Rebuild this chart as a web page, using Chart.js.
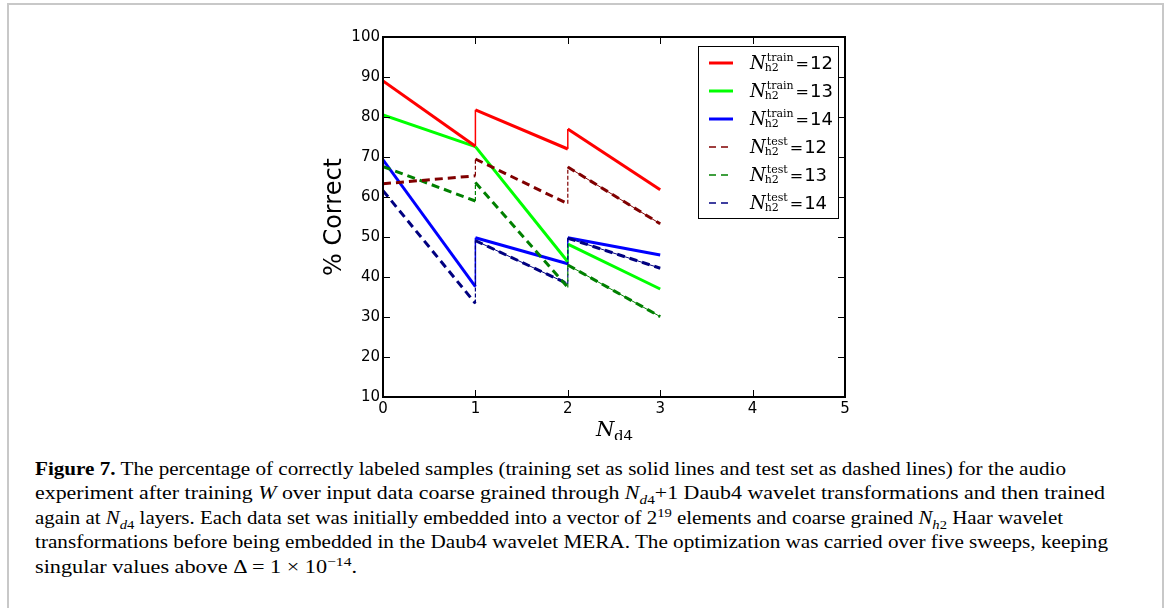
<!DOCTYPE html>
<html>
<head>
<meta charset="utf-8">
<script src="https://cdn.jsdelivr.net/npm/chart.js@4"></script>
<style>
  html, body { margin: 0; padding: 0; background: #fff; }
  body { width: 1170px; height: 608px; position: relative; overflow: hidden; }
  #frame { position: absolute; left: 7px; top: 3px; width: 1153px; height: 640px; border: 2px solid #c8c8c8; border-bottom: none; }
  #plot { position: absolute; left: 0; top: 0; }
  #caption { position: absolute; left: 35px; top: 457px; font-family: "Liberation Serif", serif; font-size: 18px; line-height: 24.4px; color: #000; }
  #caption div { white-space: nowrap; width: max-content; transform-origin: 0 0; }
  sub, sup { line-height: 0; font-size: 0.7em; }
</style>
</head>
<body>
<div id="frame"></div>
<canvas id="plot" width="1170" height="440"></canvas>
<div id="caption">
  <div data-w="1031"><b>Figure 7.</b> The percentage of correctly labeled samples (training set as solid lines and test set as dashed lines) for the audio</div>
  <div data-w="1070">experiment after training <i>W</i> over input data coarse grained through <i>N</i><sub><i>d</i>4</sub>+1 Daub4 wavelet transformations and then trained</div>
  <div data-w="1028">again at <i>N</i><sub><i>d</i>4</sub> layers. Each data set was initially embedded into a vector of 2<sup>19</sup> elements and coarse grained <i>N</i><sub><i>h</i>2</sub> Haar wavelet</div>
  <div data-w="1073">transformations before being embedded in the Daub4 wavelet MERA. The optimization was carried over five sweeps, keeping</div>
  <div data-w="322">singular values above Δ = 1 × 10<sup>−14</sup>.</div>
</div>
<script>
// N_d4 positions: every layer boundary appears twice (end of one run, start of the next)
const layers = [0, 1, 1, 2, 2, 3];

// % correct, training set
const train12 = [89.0, 72.7, 81.8, 72.0, 77.0, 61.8];
const train13 = [80.5, 72.6, 72.6, 43.8, 48.2, 37.0];
const train14 = [69.3, 37.6, 49.8, 43.3, 49.8, 45.5];

// % correct, test set
const test12 = [63.3, 65.3, 69.5, 58.3, 67.5, 53.3];
const test13 = [67.6, 59.0, 63.6, 37.4, 43.0, 30.1];
const test14 = [61.6, 33.4, 49.1, 38.3, 49.7, 42.2];

const xTickValues = [0, 1, 2, 3, 4, 5];
const yTickValues = [10, 20, 30, 40, 50, 60, 70, 80, 90, 100];

const seriesSup = ["train", "train", "train", "test", "test", "test"];
const seriesNum = ["12", "13", "14", "12", "13", "14"];

const colors = ["#ff0000", "#00ff00", "#0000ff", "#800000", "#008000", "#000080"];

const toPoints = vals => layers.map((x, i) => ({ x: x, y: vals[i] }));
const isJump = c => c.p0.parsed.x === c.p1.parsed.x;

function trainSet(vals, color) {
  return {
    data: toPoints(vals),
    borderColor: color,
    borderWidth: 3,
    pointRadius: 0,
    order: 3,
    segment: {
      borderWidth: c => isJump(c) ? 1.5 : 3,
    },
  };
}

function testSet(vals, color) {
  return {
    data: toPoints(vals),
    borderColor: color,
    borderWidth: 3,
    borderDash: [8, 5],
    borderCapStyle: "butt",
    pointRadius: 0,
    order: 1,
    segment: {
      borderWidth: c => isJump(c) ? 1.2 : 3,
      borderDash: c => isJump(c) ? [4, 2] : [8, 5],
    },
  };
}

// thin line under the later dashed runs
function underlay(vals, color, fromX) {
  return {
    data: toPoints(vals),
    borderColor: color,
    borderWidth: 1,
    pointRadius: 0,
    order: 2,
    segment: {
      borderColor: c => (!isJump(c) && c.p0.parsed.x >= fromX) ? color : "rgba(0,0,0,0)",
    },
  };
}

function line(ctx, x1, y1, x2, y2) {
  ctx.beginPath();
  ctx.moveTo(x1, y1);
  ctx.lineTo(x2, y2);
  ctx.stroke();
}

const decor = {
  id: "decor",
  afterDatasetsDraw(chart) {
    const { ctx, chartArea: a, scales: { x, y } } = chart;
    ctx.save();

    // inward ticks on all four sides
    ctx.strokeStyle = "#000";
    ctx.lineWidth = 1;
    xTickValues.forEach(v => {
      const px = Math.round(x.getPixelForValue(v)) + 0.5;
      line(ctx, px, a.bottom, px, a.bottom - 7);
      line(ctx, px, a.top, px, a.top + 7);
    });
    yTickValues.forEach(v => {
      const py = Math.round(y.getPixelForValue(v)) + 0.5;
      line(ctx, a.left, py, a.left + 7, py);
      line(ctx, a.right, py, a.right - 7, py);
    });
    ctx.lineWidth = 2;
    ctx.strokeRect(a.left, a.top, a.right - a.left, a.bottom - a.top);

    // legend
    const lx = 698, ly = 46, lw = 140, lh = 172;
    ctx.fillStyle = "#fff";
    ctx.fillRect(lx, ly, lw, lh);
    ctx.lineWidth = 1;
    ctx.strokeStyle = "#000";
    ctx.strokeRect(lx + 0.5, ly + 0.5, lw, lh);

    for (let i = 0; i < 6; i++) {
      const yc = 63 + i * 28;
      ctx.strokeStyle = colors[i];
      if (i < 3) {
        ctx.lineWidth = 3;
        ctx.setLineDash([]);
      } else {
        ctx.lineWidth = 1.5;
        ctx.setLineDash([7, 5]);
      }
      line(ctx, 709, yc, 733, yc);
      ctx.setLineDash([]);

      ctx.fillStyle = "#000";
      ctx.textAlign = "left";
      ctx.textBaseline = "alphabetic";
      let tx = 750;
      ctx.font = 'italic 18px "DejaVu Serif"';
      ctx.fillText("N", tx, yc + 6);
      tx += ctx.measureText("N").width;
      ctx.font = '11px "DejaVu Serif"';
      ctx.fillText(seriesSup[i], tx + 1, yc - 2);
      ctx.fillText("h2", tx - 1, yc + 8);
      tx += Math.max(ctx.measureText(seriesSup[i]).width, ctx.measureText("h2").width) + 3;
      ctx.font = '16px "DejaVu Serif"';
      ctx.fillText("=", tx, yc + 6);
      tx += ctx.measureText("=").width + 1;
      ctx.font = '18px "DejaVu Sans"';
      ctx.fillText(seriesNum[i], tx, yc + 6);
    }

    // axis titles
    ctx.fillStyle = "#000";
    ctx.font = 'italic 21px "DejaVu Serif"';
    ctx.textAlign = "left";
    ctx.fillText("N", 596, 436);
    ctx.font = '15px "DejaVu Serif"';
    ctx.fillText("d4", 614, 441);

    ctx.translate(341, 217);
    ctx.rotate(-Math.PI / 2);
    ctx.textAlign = "center";
    ctx.font = '24px "DejaVu Sans"';
    ctx.fillText("% Correct", 0, 0);

    ctx.restore();
  },
};

new Chart(document.getElementById("plot"), {
  type: "line",
  data: {
    datasets: [
      trainSet(train12, colors[0]),
      trainSet(train13, colors[1]),
      trainSet(train14, colors[2]),
      testSet(test12, colors[3]),
      testSet(test13, colors[4]),
      testSet(test14, colors[5]),
      underlay(test12, colors[3], 2),
      underlay(test13, colors[4], 2),
      underlay(test14, colors[5], 1),
    ],
  },
  options: {
    responsive: false,
    animation: false,
    layout: {
      padding: { left: 0, top: 37, right: 325, bottom: 0 },
    },
    plugins: {
      legend: { display: false },
      tooltip: { enabled: false },
    },
    scales: {
      x: {
        type: "linear",
        min: 0,
        max: 5,
        grid: { display: false, drawTicks: false },
        border: { display: false },
        ticks: {
          stepSize: 1,
          padding: 3,
          color: "#000",
          font: { family: "DejaVu Sans", size: 15 },
        },
        afterFit(scale) { scale.height = 43; },
      },
      y: {
        min: 10,
        max: 100,
        grid: { display: false, drawTicks: false },
        border: { display: false },
        ticks: {
          stepSize: 10,
          padding: 3,
          color: "#000",
          font: { family: "DejaVu Sans", size: 15 },
        },
        afterFit(scale) { scale.width = 383; },
      },
    },
  },
  plugins: [decor],
});

// squeeze each caption line to the width it has in the figure
document.querySelectorAll("#caption div").forEach(d => {
  const w = d.getBoundingClientRect().width;
  d.style.transform = "scaleX(" + (Number(d.dataset.w) / w) + ")";
});
</script>
</body>
</html>
